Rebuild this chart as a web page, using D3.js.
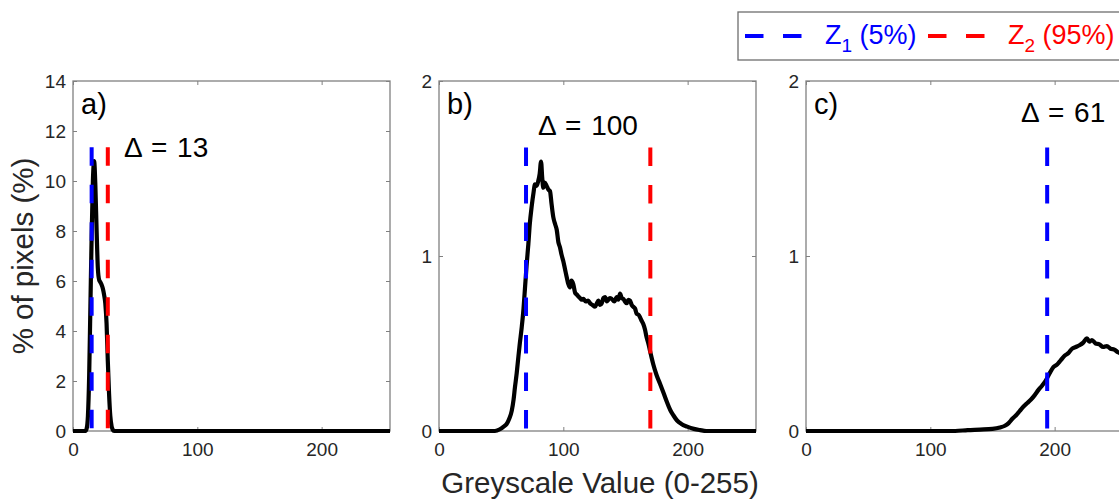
<!DOCTYPE html>
<html>
<head>
<meta charset="utf-8">
<script src="https://cdn.jsdelivr.net/npm/d3@7"></script>
<style>
body { margin: 0; background: #fff; }
text { font-family: "Liberation Sans", Arial, sans-serif; }
</style>
</head>
<body>
<script>
// histogram values (greyscale value, % of pixels)
const aGrey = [0, 10, 11, 12, 13, 14, 15, 16, 17, 18, 19, 20, 21, 22, 23, 24, 25, 26, 27, 28, 29, 30, 31, 32, 33, 255]
const aPct = [0, 0, 0.1, 0.6, 2.2, 5.0, 7.8, 10.0, 10.8, 9.8, 8.0, 6.5, 6.05, 5.95, 5.85, 5.7, 5.45, 5.1, 4.3, 2.8, 1.5, 0.6, 0.2, 0.05, 0, 0]

const bGrey = [0, 45, 49, 52, 54.4, 56.5, 58.5, 60, 61.1, 62.5, 63.8, 65, 66.5, 68, 69.2, 70.5, 71.9, 73, 74.5, 76, 77.2, 78.5, 79.9, 81, 82.1, 83, 83.9, 85, 86.6, 88, 89.3, 90.5, 92, 93.5, 94.7, 96, 97.3, 98.5, 100, 101.5, 102.7, 104, 105.4, 106.5, 108, 109.5, 110.8, 112, 113.4, 114.8, 116.1, 118, 120, 121.5, 123.5, 125.5, 127, 128.2, 129.5, 130.9, 132.3, 133.6, 135, 136.2, 137.5, 138.9, 141, 143, 144.3, 145.6, 147, 148.3, 149.6, 151, 152.4, 153.7, 155, 156.3, 157.7, 159, 160.4, 161.7, 163, 164.4, 165.7, 167, 168.4, 169.7, 171, 172.4, 175, 177.8, 180.5, 183.1, 186, 188.5, 191.5, 195, 199.6, 205, 210, 215, 255]
const bPct = [0, 0, 0.01, 0.025, 0.04, 0.07, 0.115, 0.18, 0.25, 0.33, 0.42, 0.5, 0.59, 0.7, 0.82, 0.95, 1.07, 1.18, 1.28, 1.36, 1.41, 1.40, 1.43, 1.47, 1.54, 1.45, 1.39, 1.42, 1.40, 1.38, 1.37, 1.30, 1.22, 1.18, 1.15, 1.08, 1.05, 1.01, 0.97, 0.92, 0.88, 0.84, 0.82, 0.86, 0.84, 0.79, 0.78, 0.77, 0.76, 0.75, 0.755, 0.74, 0.745, 0.73, 0.72, 0.71, 0.73, 0.745, 0.72, 0.73, 0.76, 0.765, 0.74, 0.75, 0.76, 0.755, 0.74, 0.765, 0.75, 0.785, 0.76, 0.755, 0.74, 0.73, 0.75, 0.745, 0.72, 0.71, 0.70, 0.67, 0.665, 0.65, 0.63, 0.61, 0.58, 0.535, 0.50, 0.46, 0.42, 0.38, 0.32, 0.27, 0.22, 0.17, 0.12, 0.09, 0.06, 0.04, 0.025, 0.012, 0.005, 0, 0]

const cGrey = [0, 120, 130, 140, 150, 156, 160, 163, 166, 169, 172, 175, 178, 181, 184, 187, 190, 193, 196, 199, 202, 205, 208, 211, 214, 217, 220, 223, 226, 228, 230, 233, 236, 239, 242, 245, 248, 251, 255]
const cPct = [0, 0, 0.005, 0.008, 0.012, 0.02, 0.03, 0.045, 0.07, 0.09, 0.115, 0.14, 0.16, 0.18, 0.205, 0.235, 0.26, 0.29, 0.33, 0.365, 0.38, 0.405, 0.43, 0.445, 0.47, 0.48, 0.49, 0.505, 0.53, 0.51, 0.52, 0.5, 0.495, 0.48, 0.485, 0.47, 0.465, 0.45, 0.44]

const panelNames = ['a)', 'b)', 'c)']
const z1 = [15, 70, 194]
const z2 = [28, 170, 255]
const deltas = [13, 100, 61]
const yMaxes = [14, 2, 2]
const yTickVals = [[0, 2, 4, 6, 8, 10, 12, 14], [0, 1, 2], [0, 1, 2]]
const xTickVals = [0, 100, 200]
const zTop = [11.35, 1.62, 1.62]
const legendNames = ['1', '2']
const legendPct = ['(5%)', '(95%)']

// layout
const svgw = 1119
const svgh = 499
const pw = 317
const ph = 350
const plotTop = 81
const lefts = [73, 439, 806]
const deltaPos = [[124, 157, 'start'], [588, 135, 'middle'], [1021, 122, 'start']]
const boxCol = '#808080'
const txtCol = '#262626'

const svg = d3.select('body').append('svg').attr('width', svgw).attr('height', svgh)

const series = [[aGrey, aPct], [bGrey, bPct], [cGrey, cPct]]

series.forEach((s, i) => {
	const xScale = d3.scaleLinear().domain([0, 255]).range([0, pw])
	const yScale = d3.scaleLinear().domain([0, yMaxes[i]]).range([ph, 0])

	const g = svg.append('g').attr('transform', `translate(${lefts[i]},${plotTop})`)

	const styleAxis = sel => {
		sel.select('.domain').remove()
		sel.selectAll('line').attr('stroke', boxCol).attr('stroke-width', 1)
		sel.selectAll('text').attr('fill', txtCol).style('font-size', '19px')
			.style('font-family', '"Liberation Sans", Arial, sans-serif')
	}

	g.append('g')
		.attr('transform', `translate(0,${ph})`)
		.call(d3.axisBottom(xScale).tickValues(xTickVals).tickFormat(d3.format('d'))
			.tickSizeInner(-4).tickSizeOuter(0).tickPadding(12))
		.call(styleAxis)
	g.append('g')
		.call(d3.axisTop(xScale).tickValues(xTickVals).tickSizeInner(-4).tickSizeOuter(0).tickFormat(''))
		.call(styleAxis)
	g.append('g')
		.call(d3.axisLeft(yScale).tickValues(yTickVals[i]).tickFormat(d3.format('d'))
			.tickSizeInner(-4).tickSizeOuter(0).tickPadding(7))
		.call(styleAxis)
	g.append('g')
		.attr('transform', `translate(${pw},0)`)
		.call(d3.axisRight(yScale).tickValues(yTickVals[i]).tickSizeInner(-4).tickSizeOuter(0).tickFormat(''))
		.call(styleAxis)

	g.append('rect')
		.attr('width', pw).attr('height', ph)
		.attr('fill', 'none').attr('stroke', boxCol).attr('stroke-width', 1.3)

	const line = d3.line()
		.x((d, k) => xScale(s[0][k]))
		.y(d => yScale(d))
		.curve(d3.curveMonotoneX)

	g.append('path')
		.datum(s[1])
		.attr('d', line)
		.attr('fill', 'none')
		.attr('stroke', '#000')
		.attr('stroke-width', 4.2)
		.attr('stroke-linejoin', 'round')

	const dashes = [[z1[i], '#0000ff'], [z2[i], '#ff0000']]
	dashes.forEach(d => {
		g.append('line')
			.attr('x1', xScale(d[0])).attr('x2', xScale(d[0]))
			.attr('y1', yScale(zTop[i])).attr('y2', yScale(0))
			.attr('stroke', d[1])
			.attr('stroke-width', 4)
			.attr('stroke-dasharray', '18.5,19')
	})

	g.append('text')
		.attr('x', 8).attr('y', 33)
		.style('font-size', '29px')
		.text(panelNames[i])

	svg.append('text')
		.attr('x', deltaPos[i][0]).attr('y', deltaPos[i][1])
		.attr('text-anchor', deltaPos[i][2])
		.style('font-size', '28px')
		.style('word-spacing', '2px')
		.text('\u0394 = ' + deltas[i])
})

// axis titles
svg.append('text')
	.attr('transform', 'translate(33,256) rotate(-90)')
	.attr('text-anchor', 'middle')
	.attr('fill', txtCol)
	.style('font-size', '29.5px')
	.text('% of pixels (%)')

svg.append('text')
	.attr('x', 600).attr('y', 493)
	.attr('text-anchor', 'middle')
	.attr('fill', txtCol)
	.style('font-size', '29.5px')
	.text('Greyscale Value (0-255)')

// legend
svg.append('rect')
	.attr('x', 738).attr('y', 12).attr('width', 400).attr('height', 48)
	.attr('fill', '#fff').attr('stroke', '#6e6e6e').attr('stroke-width', 1.3)

const legCols = ['#0000ff', '#ff0000']
const legLineX = [745, 928]
const legTextX = [825, 1008]
legCols.forEach((c, i) => {
	svg.append('line')
		.attr('x1', legLineX[i]).attr('x2', legLineX[i] + 57)
		.attr('y1', 36).attr('y2', 36)
		.attr('stroke', c).attr('stroke-width', 4)
		.attr('stroke-dasharray', '18.5,19.5')
	const t = svg.append('text')
		.attr('x', legTextX[i]).attr('y', 44)
		.attr('fill', c)
		.style('font-size', '27px')
	t.append('tspan').text('Z')
	t.append('tspan').attr('dy', 8).style('font-size', '19px').text(legendNames[i])
	t.append('tspan').attr('dy', -8).text(' ' + legendPct[i])
})
</script>
</body>
</html>
